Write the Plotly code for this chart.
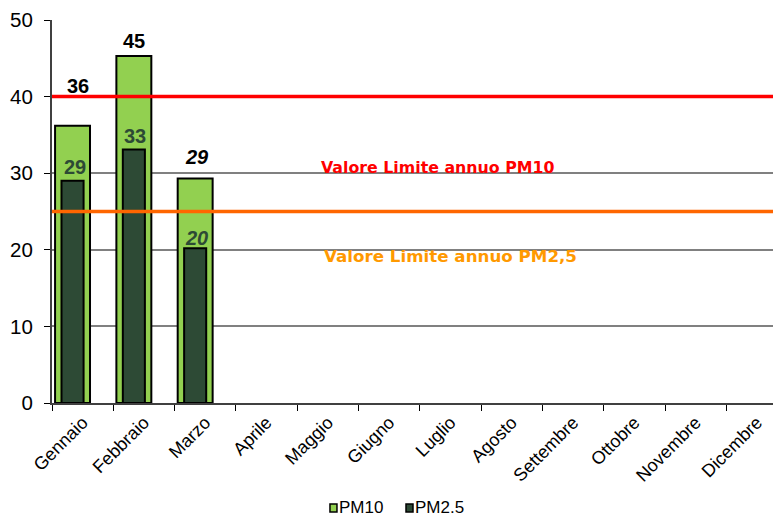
import plotly.graph_objects as go

months = ["Gennaio", "Febbraio", "Marzo", "Aprile", "Maggio", "Giugno",
          "Luglio", "Agosto", "Settembre", "Ottobre", "Novembre", "Dicembre"]
series_names = ["PM10", "PM2.5"]
pm10 = [36.2, 45.3, 29.3, None, None, None, None, None, None, None, None, None]
pm25 = [29.0, 33.1, 20.2, None, None, None, None, None, None, None, None, None]
pm10_labels = ["<b>36</b>", "<b>45</b>", "<b><i>29</i></b>"]
pm25_labels = ["<b>29</b>", "<b>33</b>", "<b><i>20</i></b>"]
pm10_label_y = [41.4, 47.3, 32.1]
pm25_label_y = [30.8, 34.9, 21.5]
limit_pm10 = 40
limit_pm25 = 25
colors = ["#92D050", "#2D4A35"]

fig = go.Figure()
fig.add_trace(go.Bar(
    x=months, y=pm10, name=series_names[0], width=0.57, offset=-0.165 - 0.285,
    marker=dict(color=colors[0], line=dict(color="black", width=2)), showlegend=False,
))
fig.add_trace(go.Bar(
    x=months, y=pm25, name=series_names[1], width=0.36, offset=-0.165 - 0.18,
    marker=dict(color=colors[1], line=dict(color="black", width=2)), showlegend=False,
))

pm10_shift = [-5, -10, -8]
pm25_shift = [-8, -9, -9]
for i, (t, yv) in enumerate(zip(pm10_labels, pm10_label_y)):
    fig.add_annotation(x=months[i], y=yv, xref="x", yref="y", text=t, showarrow=False,
                       xshift=pm10_shift[i],
                       font=dict(family="Liberation Sans, Arial", size=20, color="black"))
for i, (t, yv) in enumerate(zip(pm25_labels, pm25_label_y)):
    fig.add_annotation(x=months[i], y=yv, xref="x", yref="y", text=t, showarrow=False,
                       xshift=pm25_shift[i],
                       font=dict(family="Liberation Sans, Arial", size=20, color="#2D4A35"))

fig.add_shape(type="line", xref="paper", x0=0, x1=1, yref="y", y0=limit_pm10, y1=limit_pm10,
              line=dict(color="#FF0000", width=3.5))
fig.add_shape(type="line", xref="paper", x0=0, x1=1, yref="y", y0=limit_pm25, y1=limit_pm25,
              line=dict(color="#FF6600", width=3.5))

fig.add_annotation(x=(437 - 52) / 729, xref="paper", y=30.7, yref="y",
                   text="<b>Valore Limite annuo PM10</b>",
                   showarrow=False, font=dict(family="Verdana, DejaVu Sans", size=15.8, color="#FF0000"))
fig.add_annotation(x=(450 - 52) / 729, xref="paper", y=19.2, yref="y",
                   text="<b>Valore Limite annuo PM2,5</b>",
                   showarrow=False, font=dict(family="Verdana, DejaVu Sans", size=16.7, color="#FF9900"))

# manual legend (small squares close to text, as in the reference)
leg_sq_x = [0.3813, 0.4856]
leg_txt_x = [0.3923, 0.4966]
for i, nm in enumerate(series_names):
    fig.add_shape(type="rect", xref="paper", yref="paper",
                  x0=leg_sq_x[i], x1=leg_sq_x[i] + 0.0096, y0=-0.2845, y1=-0.2636,
                  fillcolor=colors[i], line=dict(color="black", width=1.5))
    fig.add_annotation(x=leg_txt_x[i], y=-0.2725, xref="paper", yref="paper",
                       xanchor="left", yanchor="middle", text=nm, showarrow=False,
                       borderpad=0,
                       font=dict(family="Liberation Sans, Arial", size=17, color="black"))

fig.update_layout(
    width=773, height=509,
    margin=dict(l=44, r=0, t=12, b=114, autoexpand=False),
    plot_bgcolor="white", paper_bgcolor="white",
    barmode="overlay",
    font=dict(family="Liberation Sans, Arial", color="black"),
    showlegend=False,
    xaxis=dict(categoryorder="array", categoryarray=months, tickangle=-45,
               tickfont=dict(size=18), showline=True, linecolor="#404040", linewidth=2,
               ticks="outside", ticklen=6, tickcolor="black", tickson="boundaries",
               range=[-0.5, 11.39], automargin=False),
    yaxis=dict(range=[0, 50], dtick=10, tickfont=dict(size=20.5),
               showgrid=True, gridcolor="#808080", gridwidth=1.5,
               showline=True, linecolor="#404040", linewidth=2,
               ticks="outside", ticklen=6, tickcolor="black", zeroline=False,
               ticklabelstandoff=7, automargin=False),
)

fig.write_html("out.html")
